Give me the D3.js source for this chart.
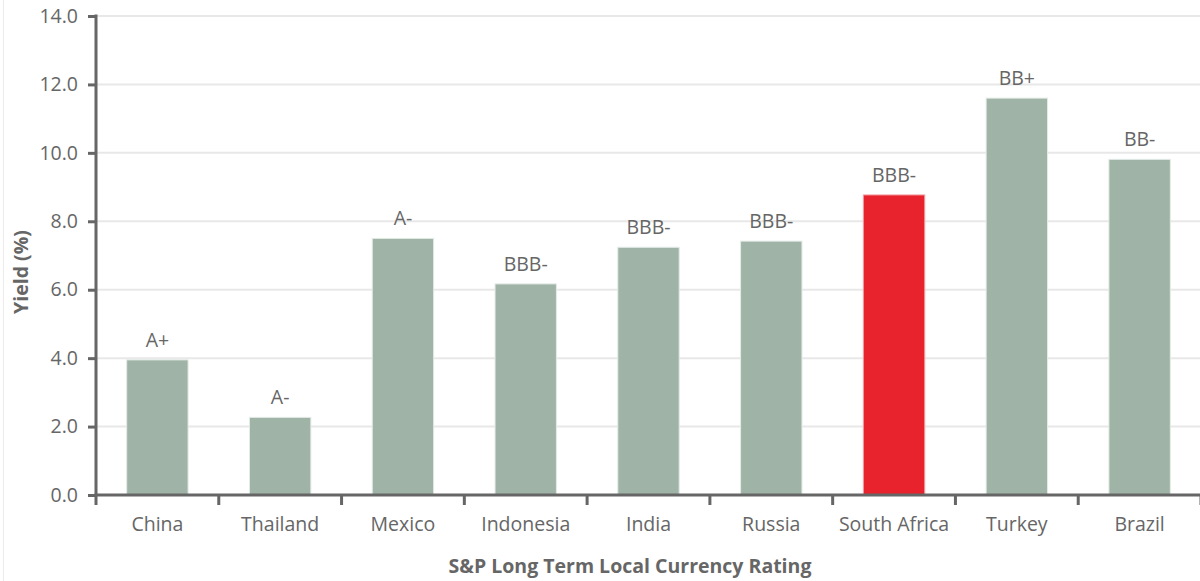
<!DOCTYPE html>
<html><head><meta charset="utf-8">
<script src="https://cdn.jsdelivr.net/npm/d3@7"></script>
<style>body{margin:0;background:#fff}svg{display:block}text{font-family:"Open Sans",sans-serif}</style>
</head><body>
<svg id="c" width="1200" height="581"></svg>
<script>
const categories = ["China","Thailand","Mexico","Indonesia","India","Russia","South Africa","Turkey","Brazil"];
const yields = [3.95,2.27,7.5,6.17,7.24,7.42,8.77,11.6,9.81];
const ratings = ["A+","A-","A-","BBB-","BBB-","BBB-","BBB-","BB+","BB-"];
const highlight = ["South Africa"];
const yTicks = [0,2,4,6,8,10,12,14];

const svg = d3.select("#c");
const x0 = 96, x1 = 1201, yTop = 16, yBot = 495;
const fs = 19.5, col = "#666";
const x = d3.scaleBand().domain(categories).range([x0,x1]).paddingInner(0.5).paddingOuter(0.25);
const y = d3.scaleLinear().domain([0,14]).range([yBot,yTop]);

svg.append("line").attr("x1",3.5).attr("x2",3.5).attr("y1",0).attr("y2",581).attr("stroke","#ececec");

svg.append("g").selectAll("line").data(yTicks.slice(1)).join("line")
  .attr("x1",x0).attr("x2",1200).attr("y1",d=>y(d)).attr("y2",d=>y(d))
  .attr("stroke","#e8e8e8").attr("stroke-width",2);

svg.append("g").selectAll("rect").data(categories).join("rect")
  .attr("x",d=>x(d)).attr("width",x.bandwidth())
  .attr("y",(d,i)=>y(yields[i])).attr("height",(d,i)=>yBot-y(yields[i]))
  .attr("fill",d=>highlight.includes(d)?"#e8232e":"#9fb3a7")
  .attr("stroke",d=>highlight.includes(d)?"#f2a0a4":"#e4ebe6").attr("stroke-width",1);

svg.append("g").selectAll("text").data(categories).join("text")
  .attr("x",d=>x(d)+x.bandwidth()/2).attr("y",(d,i)=>y(yields[i])-13)
  .attr("text-anchor","middle").attr("font-size",fs).attr("fill",col)
  .text((d,i)=>ratings[i]);

const ya = svg.append("g").attr("transform",`translate(${x0},0)`)
  .call(d3.axisLeft(y).tickValues(yTicks).tickFormat(d3.format(".1f")).tickSize(8).tickSizeOuter(0));
ya.select(".domain").attr("stroke",col).attr("stroke-width",3);
ya.selectAll(".tick line").attr("stroke",col).attr("stroke-width",3);
ya.selectAll(".tick text").attr("font-size",fs).attr("fill",col).attr("font-family","Open Sans").attr("x",-18);
ya.select(".domain").attr("d",`M0,${yTop-1.5}V${yBot}`);

const bounds = d3.range(categories.length+1).map(i=>x0+i*x.step());
const xg = svg.append("g");
xg.append("line").attr("x1",x0-1.5).attr("x2",1200).attr("y1",yBot).attr("y2",yBot).attr("stroke",col).attr("stroke-width",3);
xg.selectAll("line.t").data(bounds).join("line").attr("class","t")
  .attr("x1",d=>d).attr("x2",d=>d).attr("y1",yBot).attr("y2",yBot+10).attr("stroke",col).attr("stroke-width",3);
xg.selectAll("text").data(categories).join("text")
  .attr("x",d=>x(d)+x.bandwidth()/2).attr("y",531).attr("text-anchor","middle")
  .attr("font-size",fs).attr("fill",col).text(d=>d);

svg.append("text").attr("x",630).attr("y",573).attr("text-anchor","middle")
  .attr("font-size",fs).attr("font-weight","bold").attr("fill",col).text("S&P Long Term Local Currency Rating");
svg.append("text").attr("transform","translate(28,272) rotate(-90)").attr("text-anchor","middle")
  .attr("font-size",fs).attr("font-weight","bold").attr("fill",col).text("Yield (%)");
</script>
</body></html>
